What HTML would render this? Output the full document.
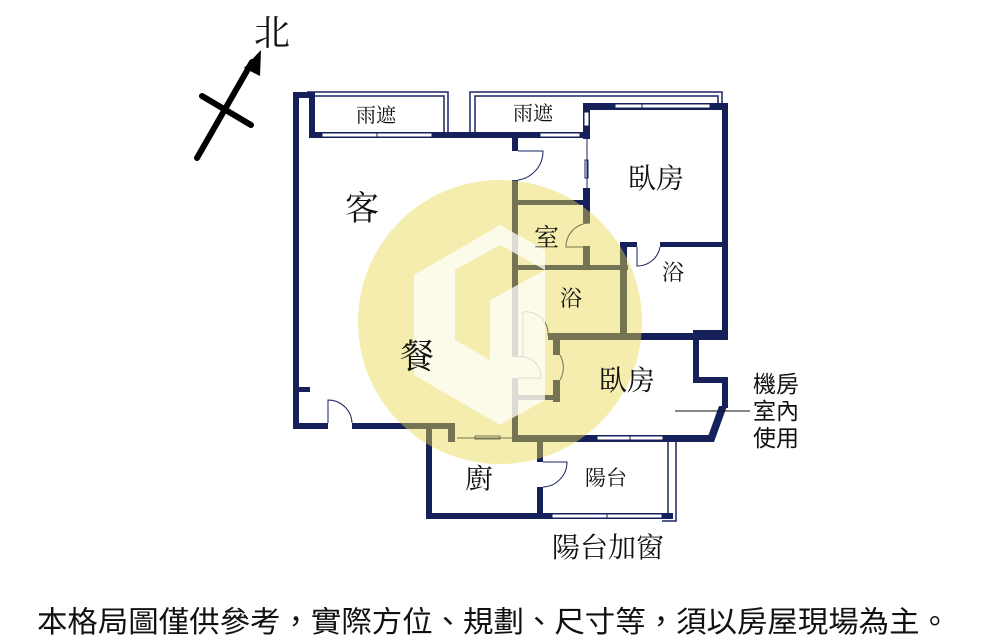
<!DOCTYPE html>
<html><head><meta charset="utf-8"><style>
html,body{margin:0;padding:0;background:#fff;width:1000px;height:640px;overflow:hidden}
svg{display:block}
text{font-family:"Liberation Serif","Noto Serif CJK SC","Noto Sans CJK TC",serif;fill:#111}
.s{font-family:"Liberation Sans","Noto Sans CJK TC",sans-serif}
</style></head><body>
<svg width="1000" height="640" viewBox="0 0 1000 640" xmlns="http://www.w3.org/2000/svg">
<!-- compass -->
<g stroke="#000" stroke-width="6" stroke-linecap="round">
<line x1="197" y1="158" x2="252" y2="62"/>
<line x1="202" y1="96" x2="251" y2="125"/>
</g>
<polygon points="261,50 244,68 260,76" fill="#000"/>
<text x="254" y="45" font-size="36">北</text>

<!-- rain shelters (thin double lines) -->
<g fill="none" stroke="#1a2560" stroke-width="1.5">
<polyline points="307,92 448,92 448,132"/>
<polyline points="307,96 444,96 444,132"/>
<polyline points="470,132 470,92 722,92 722,104"/>
<polyline points="475,132 475,96 718,96 718,104"/>
<!-- balcony right -->
<polyline points="668,442 668,518"/>
<polyline points="676,442 676,521 662,521"/>
</g>

<!-- walls -->
<g fill="#16215c">
<rect x="293" y="92" width="22" height="6"/>
<rect x="309" y="92" width="6" height="46"/>
<rect x="293" y="92" width="6" height="337"/>
<rect x="309" y="132" width="280" height="6"/>
<rect x="293" y="423" width="35" height="6"/>
<rect x="352" y="423" width="102" height="6"/>
<rect x="298" y="387" width="12" height="5"/>
<rect x="448" y="423" width="7" height="19"/>
<rect x="426" y="423" width="6" height="95"/>
<rect x="426" y="513" width="117" height="6"/>
<rect x="543" y="513" width="130" height="6"/>
<rect x="512" y="435" width="200" height="7"/>
<polygon points="706,442 719,406 727,406 714,442"/>
<rect x="722" y="103" width="6" height="233"/>
<rect x="693" y="330" width="34" height="6"/>
<rect x="693" y="330" width="6" height="52"/>
<rect x="693" y="377" width="34" height="6"/>
<rect x="722" y="377" width="6" height="31"/>
<rect x="583" y="103" width="145" height="7"/>
<rect x="583" y="103" width="7" height="36"/>
<rect x="583" y="188" width="7" height="35"/>
<rect x="583" y="246" width="7" height="22"/>
<rect x="512" y="137" width="6" height="14"/>
<rect x="512" y="180" width="6" height="177"/>
<rect x="512" y="378" width="6" height="62"/>
<rect x="512" y="200" width="78" height="5"/>
<rect x="512" y="265" width="116" height="5"/>
<rect x="620" y="242" width="7" height="98"/>
<rect x="620" y="242" width="17" height="5"/>
<rect x="660" y="242" width="67" height="5"/>
<rect x="548" y="333" width="180" height="7"/>
<rect x="553" y="340" width="7" height="15"/>
<rect x="553" y="380" width="7" height="22"/>
<rect x="512" y="395" width="48" height="5"/>
<rect x="537" y="442" width="6" height="20"/>
<rect x="537" y="487" width="6" height="32"/>
</g>
<!-- windows -->
<g fill="#fff" stroke="#16215c" stroke-width="1">
<rect x="322" y="133" width="110" height="4"/>
<rect x="540" y="133" width="40" height="4"/>
<rect x="615" y="104" width="95" height="4"/>
<rect x="597" y="436" width="66" height="4"/>
<rect x="552" y="514" width="110" height="4"/>
<rect x="584" y="112" width="5" height="14"/>
</g>
<g stroke="#16215c" stroke-width="1" fill="none">
<line x1="377" y1="133" x2="377" y2="137"/><line x1="642" y1="104" x2="642" y2="108"/>
<line x1="630" y1="436" x2="630" y2="440"/><line x1="607" y1="514" x2="607" y2="518"/>
<line x1="587" y1="139" x2="587" y2="188"/>
<rect x="585" y="160" width="3" height="18"/>
<line x1="457" y1="438" x2="512" y2="438"/>
<rect x="475" y="436" width="25" height="3"/>
<!-- door arcs -->
<path d="M518 151 L543 151 A29 29 0 0 1 518 180"/>
<path d="M328 423 L328 400 A24 24 0 0 1 352 423"/>
<path d="M590 223 A24 24 0 0 0 566 247 L590 247"/>
<path d="M637 247 L637 266 A23 23 0 0 0 660 247"/>
<path d="M523 357 L523 312 A22 22 0 0 1 548 336"/>
<path d="M518 357 A20 20 0 0 1 541 378 L518 378"/>
<path d="M560 355 A25 25 0 0 1 560 380"/>
<path d="M543 462 L567 462 A25 25 0 0 1 543 487"/>
<line x1="675" y1="411" x2="750" y2="411" stroke="#111"/>
</g>

<!-- watermark -->
<circle cx="500" cy="322" r="142" fill="#e6d64a" opacity="0.45"/>
<polygon points="414,275 500,225 545,250 545,270 500,245 455,270 455,340 490,360 490,300 545,270 545,400 500,425 414,375" fill="#fff" opacity="0.75"/>

<!-- labels -->
<text x="356" y="122" font-size="20">雨遮</text>
<text x="513" y="120" font-size="20">雨遮</text>
<text x="628" y="188" font-size="28">臥房</text>
<text x="345" y="220" font-size="34">客</text>
<text x="534" y="246" font-size="25">室</text>
<text x="662" y="280" font-size="22">浴</text>
<text x="560" y="306" font-size="22">浴</text>
<text x="400" y="368" font-size="34">餐</text>
<text x="599" y="390" font-size="28">臥房</text>
<text x="465" y="488" font-size="28">廚</text>
<text x="585" y="485" font-size="21">陽台</text>
<text x="552" y="557" font-size="28">陽台加窗</text>
<text class="s" x="753" y="392" font-size="23">機房</text>
<text class="s" x="753" y="419" font-size="23">室內</text>
<text class="s" x="753" y="446" font-size="23">使用</text>
<text class="s" x="37" y="632" font-size="29.5" textLength="913" lengthAdjust="spacingAndGlyphs">本格局圖僅供參考，實際方位、規劃、尺寸等，須以房屋現場為主。</text>
</svg>
</body></html>
